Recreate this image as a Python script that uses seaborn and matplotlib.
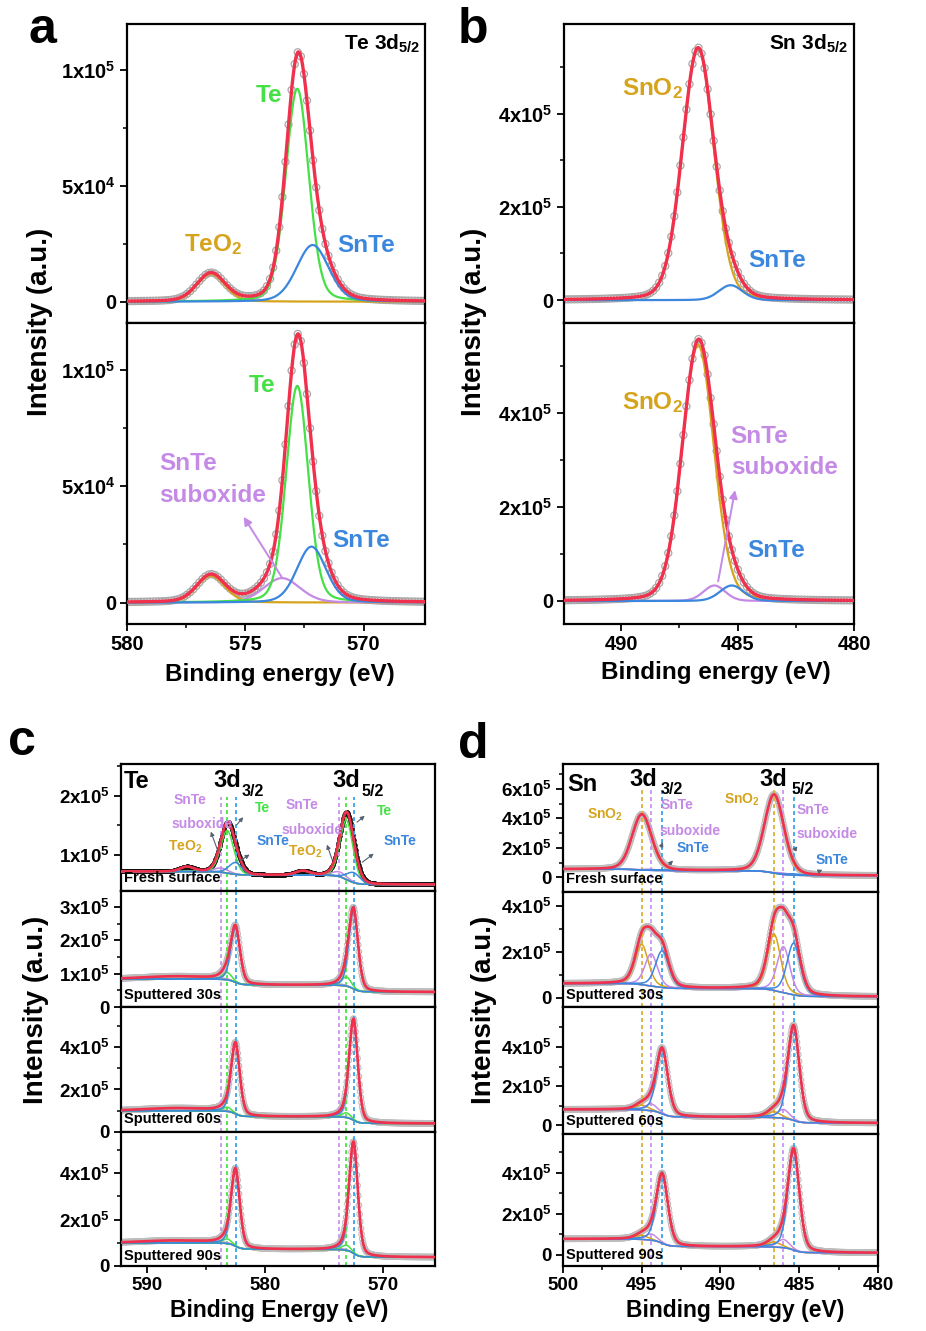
import numpy as np
import matplotlib
matplotlib.use("Agg")
import matplotlib.pyplot as plt
import seaborn as sns

sns.set_style("ticks")
plt.rcParams["font.family"] = ["Liberation Sans", "DejaVu Sans"]
plt.rcParams["font.weight"] = "bold"
plt.rcParams["mathtext.fontset"] = "custom"
plt.rcParams["mathtext.rm"] = "Liberation Sans:bold"
plt.rcParams["mathtext.bf"] = "Liberation Sans:bold"
plt.rcParams["mathtext.it"] = "Liberation Sans:bold"
plt.rcParams["mathtext.default"] = "bf"
plt.rcParams["text.color"] = "black"
plt.rcParams["axes.labelcolor"] = "black"
plt.rcParams["xtick.color"] = "black"
plt.rcParams["ytick.color"] = "black"
plt.rcParams["axes.edgecolor"] = "black"

# ---------------- data ----------------
# panel a: Te 3d5/2 (top: as grown, bottom: with suboxide)
A1_COMP = ["TeO2", "Te", "SnTe"]
A1_CEN = [576.45, 572.8, 572.15]
A1_HGT = [1.2e4, 9.2e4, 2.45e4]
A1_FWHM = [1.4, 1.15, 1.6]
A2_COMP = ["TeO2", "suboxide", "Te", "SnTe"]
A2_CEN = [576.45, 573.45, 572.8, 572.2]
A2_HGT = [1.15e4, 1.05e4, 9.3e4, 2.4e4]
A2_FWHM = [1.4, 1.8, 1.1, 1.45]

# panel b: Sn 3d5/2
B1_COMP = ["SnO2", "SnTe"]
B1_CEN = [486.7, 485.3]
B1_HGT = [5.4e5, 3.2e4]
B1_FWHM = [1.6, 1.2]
B2_COMP = ["SnO2", "suboxide", "SnTe"]
B2_CEN = [486.7, 486.0, 485.25]
B2_HGT = [5.45e5, 3.3e4, 3.3e4]
B2_FWHM = [1.6, 1.1, 1.2]

# panel c: Te 3d depth profile
C_LABELS = ["Fresh surface", "Sputtered 30s", "Sputtered 60s", "Sputtered 90s"]
C_COMP = ["suboxide", "Te", "SnTe"]
C_CEN_32 = [583.7, 583.2, 582.5]
C_CEN_52 = [573.7, 573.1, 572.5]
C_HGT_32 = [[0.07e5, 0.72e5, 0.2e5], [0.04e5, 0.22e5, 1.65e5],
            [0.05e5, 0.2e5, 3.3e5], [0.05e5, 0.2e5, 3.3e5]]
C_HGT_52 = [[0.08e5, 1.0e5, 0.17e5], [0.04e5, 0.28e5, 2.35e5],
            [0.05e5, 0.22e5, 4.7e5], [0.05e5, 0.22e5, 4.75e5]]
C_FWHM = [[1.5, 1.3, 1.3], [1.2, 0.9, 0.9], [1.2, 0.9, 0.85], [1.2, 0.9, 0.85]]
C_TEO2_CEN = [586.6, 576.8]
C_TEO2_HGT = [0.08e5, 0.07e5]
C_HUMP_HGT = [0.0, 0.08e5, 0.12e5, 0.1e5]
C_BG_HI = [0.72e5, 0.84e5, 1.0e5, 1.0e5]
C_BG_MID = [0.66e5, 0.66e5, 0.72e5, 0.72e5]
C_BG_LO = [0.5e5, 0.45e5, 0.4e5, 0.38e5]
C_YLIM = [(0.39e5, 2.54e5), (0, 3.48e5), (0, 5.88e5), (0, 5.78e5)]
C_YTICKS = [[1e5, 2e5], [0, 1e5, 2e5, 3e5], [0, 2e5, 4e5], [0, 2e5, 4e5]]
C_YTICKLABELS = [["1x10$^5$", "2x10$^5$"], ["0", "1x10$^5$", "2x10$^5$", "3x10$^5$"],
                 ["0", "2x10$^5$", "4x10$^5$"], ["0", "2x10$^5$", "4x10$^5$"]]

# panel d: Sn 3d depth profile
D_COMP = ["SnO2", "suboxide", "SnTe"]
D_CEN_32 = [495.0, 494.4, 493.7]
D_CEN_52 = [486.6, 486.0, 485.35]
D_HGT_32 = [[3.75e5, 0.08e5, 0.06e5], [1.75e5, 1.4e5, 1.6e5],
            [0.25e5, 0.35e5, 3.3e5], [0.2e5, 0.3e5, 3.35e5]]
D_HGT_52 = [[5.3e5, 0.1e5, 0.1e5], [2.45e5, 2.0e5, 2.25e5],
            [0.3e5, 0.45e5, 4.75e5], [0.25e5, 0.4e5, 4.85e5]]
D_FWHM = [[1.45, 1.0, 1.0], [1.0, 0.95, 1.0], [1.0, 0.9, 0.85], [1.0, 0.9, 0.85]]
D_BG_HI = [0.55e5, 0.62e5, 0.8e5, 0.78e5]
D_BG_MID = [0.45e5, 0.4e5, 0.4e5, 0.4e5]
D_BG_LO = [0.12e5, 0.05e5, 0.1e5, 0.1e5]
D_YLIM = [(-1.0e5, 7.7e5), (-0.4e5, 4.6e5), (-0.46e5, 6.05e5), (-0.54e5, 5.9e5)]
D_YTICKS = [[0, 2e5, 4e5, 6e5], [0, 2e5, 4e5], [0, 2e5, 4e5], [0, 2e5, 4e5]]
D_YTICKLABELS = [["0", "2x10$^5$", "4x10$^5$", "6x10$^5$"], ["0", "2x10$^5$", "4x10$^5$"],
                 ["0", "2x10$^5$", "4x10$^5$"], ["0", "2x10$^5$", "4x10$^5$"]]

COL = {"TeO2": "#d6a41c", "SnO2": "#d6a41c", "Te": "#45e045", "SnTe": "#3b87dd",
       "suboxide": "#c48ae6", "env": "#f0304c"}
DASH = {"TeO2": "#e0b43a", "SnO2": "#e0b43a", "Te": "#4ee84e", "SnTe": "#45a8ee",
        "suboxide": "#cf9cf0"}

W, H = 926, 1331
fig = plt.figure(figsize=(W / 100, H / 100), dpi=100)


def add_ax(x0, x1, y0, y1):
    return fig.add_axes([x0 / W, 1 - y1 / H, (x1 - x0) / W, (y1 - y0) / H])


def pv(x, c, h, w, eta):
    g = np.exp(-4 * np.log(2) * ((x - c) / w) ** 2)
    l = 1.0 / (1 + 4 * ((x - c) / w) ** 2)
    return h * ((1 - eta) * g + eta * l)


def line(ax, x, y, color, lw, z=2):
    sns.lineplot(x=x, y=y, ax=ax, color=color, linewidth=lw, estimator=None,
                 errorbar=None, zorder=z)


def dots(ax, x, y, color, s, lw, fill=False, z=1):
    sns.scatterplot(x=x, y=y, ax=ax, s=s, marker="o",
                    fc=(color if fill else "none"), ec=color, linewidth=lw,
                    zorder=z, legend=False)


def style(ax, xlim, xmaj, xmin, ylim, ymaj, ylabels, ymin, fs, showx):
    ax.set_xlim(*xlim)
    ax.set_ylim(*ylim)
    ax.set_xticks(xmaj)
    ax.set_xticks(xmin, minor=True)
    ax.set_yticks(ymaj)
    ax.set_yticklabels(ylabels)
    ax.set_yticks(ymin, minor=True)
    if showx:
        ax.set_xticklabels([f"{v:g}" for v in xmaj])
    else:
        ax.set_xticklabels([])
    ax.tick_params(axis="both", which="major", direction="out", length=5, width=1.3,
                   labelsize=fs, colors="black", pad=3)
    ax.tick_params(axis="both", which="minor", direction="out", length=3, width=1.1,
                   colors="black")
    for lab in ax.get_xticklabels() + ax.get_yticklabels():
        lab.set_fontweight("bold")
    for sp in ax.spines.values():
        sp.set_linewidth(1.6)
        sp.set_color("black")
    ax.set_xlabel("")
    ax.set_ylabel("")


# ---------------- panels a & b ----------------
def simple_panel(ax, xlim, comps, cens, hgts, fwhms, eta):
    x = np.linspace(min(xlim), max(xlim), 700)
    xs = np.arange(min(xlim) + 0.05, max(xlim), 0.13)
    env = np.zeros_like(x)
    envs = np.zeros_like(xs)
    for c, h, w in zip(cens, hgts, fwhms):
        env += pv(x, c, h, w, eta)
        envs += pv(xs, c, h, w, eta)
    dots(ax, xs, envs, "#a8a8a8", 26, 0.9, z=1)
    for name, c, h, w in zip(comps, cens, hgts, fwhms):
        line(ax, x, pv(x, c, h, w, eta), COL[name], 1.6, z=3)
    line(ax, x, env, COL["env"], 2.4, z=4)


A_XLIM = (580, 567.4)
B_XLIM = (492.46, 480)
axa1 = add_ax(127, 425, 24, 323)
axa2 = add_ax(127, 425, 323, 624)
axb1 = add_ax(564, 854, 24, 323)
axb2 = add_ax(564, 854, 323, 624)

simple_panel(axa1, A_XLIM, A1_COMP, A1_CEN, A1_HGT, A1_FWHM, 0.2)
simple_panel(axa2, A_XLIM, A2_COMP, A2_CEN, A2_HGT, A2_FWHM, 0.2)
simple_panel(axb1, B_XLIM, B1_COMP, B1_CEN, B1_HGT, B1_FWHM, 0.15)
simple_panel(axb2, B_XLIM, B2_COMP, B2_CEN, B2_HGT, B2_FWHM, 0.15)

for ax, showx in [(axa1, False), (axa2, True)]:
    style(ax, A_XLIM, [580, 575, 570], [577.5, 572.5], (-0.92e4, 1.2e5),
          [0, 5e4, 1e5], ["0", "5x10$^4$", "1x10$^5$"], [2.5e4, 7.5e4], 14.5, showx)
for ax, showx in [(axb1, False), (axb2, True)]:
    style(ax, B_XLIM, [490, 485, 480], [487.5, 482.5], (-0.49e5, 5.92e5),
          [0, 2e5, 4e5], ["0", "2x10$^5$", "4x10$^5$"], [1e5, 3e5, 5e5], 14.5, showx)

LFS = 17.5
axa1.text(0.983, 0.933, "Te 3d$_{5/2}$", transform=axa1.transAxes, ha="right",
          va="center", fontsize=15, fontweight="bold")
axa1.text(574.0, 8.9e4, "Te", color=COL["Te"], fontsize=LFS, ha="center", va="center")
axa1.text(576.35, 2.45e4, "TeO$_2$", color=COL["TeO2"], fontsize=LFS, ha="center", va="center")
axa1.text(569.9, 2.45e4, "SnTe", color=COL["SnTe"], fontsize=LFS, ha="center", va="center")

axa2.text(574.3, 9.3e4, "Te", color=COL["Te"], fontsize=LFS, ha="center", va="center")
axa2.text(578.65, 5.96e4, "SnTe", color=COL["suboxide"], fontsize=LFS, ha="left", va="center")
axa2.text(578.65, 4.6e4, "suboxide", color=COL["suboxide"], fontsize=LFS, ha="left", va="center")
axa2.text(570.1, 2.65e4, "SnTe", color=COL["SnTe"], fontsize=LFS, ha="center", va="center")
axa2.annotate("", xy=(575.13, 3.78e4), xytext=(573.4, 1.0e4),
              arrowprops=dict(arrowstyle="-|>", color=COL["suboxide"], lw=1.4,
                              mutation_scale=12), zorder=5)

axb1.text(0.98, 0.933, "Sn 3d$_{5/2}$", transform=axb1.transAxes, ha="right",
          va="center", fontsize=15, fontweight="bold")
axb1.text(488.67, 4.54e5, "SnO$_2$", color=COL["SnO2"], fontsize=LFS, ha="center", va="center")
axb1.text(483.3, 0.86e5, "SnTe", color=COL["SnTe"], fontsize=LFS, ha="center", va="center")
axb2.text(488.67, 4.22e5, "SnO$_2$", color=COL["SnO2"], fontsize=LFS, ha="center", va="center")
axb2.text(485.3, 3.5e5, "SnTe", color=COL["suboxide"], fontsize=LFS, ha="left", va="center")
axb2.text(485.3, 2.85e5, "suboxide", color=COL["suboxide"], fontsize=LFS, ha="left", va="center")
axb2.text(483.35, 1.07e5, "SnTe", color=COL["SnTe"], fontsize=LFS, ha="center", va="center")
axb2.annotate("", xy=(485.09, 2.42e5), xytext=(485.86, 0.36e5),
              arrowprops=dict(arrowstyle="-|>", color=COL["suboxide"], lw=1.4,
                              mutation_scale=12), zorder=5)


# ---------------- panels c & d ----------------
def doublet_panel(ax, xlim, comps, cen32, cen52, h32, h52, fw, bg_hi, bg_mid, bg_lo,
                  eta, fresh, bg_col, extra=None, hump=0.0, hump_col=None):
    x = np.linspace(min(xlim), max(xlim), 1400)
    p32 = [pv(x, c, h, w, eta) for c, h, w in zip(cen32, h32, fw)]
    p52 = [pv(x, c, h, w, eta) for c, h, w in zip(cen52, h52, fw)]
    s32 = np.sum(p32, axis=0)
    s52 = np.sum(p52, axis=0)
    f32 = np.cumsum(s32) / np.sum(s32)
    f52 = np.cumsum(s52) / np.sum(s52)
    bg = bg_lo + (bg_mid - bg_lo) * f52 + (bg_hi - bg_mid) * f32
    env = bg + s32 + s52
    comp_lines = []
    if extra is not None:
        for name, cs, hs, w in extra:
            for c, h in zip(cs, hs):
                pk = pv(x, c, h, w, eta)
                env = env + pk
                comp_lines.append((name, bg + pk))
    if hump > 0:
        hp = pv(x, 587.5, hump, 6.5, 0.0)
        env = env + hp
        comp_lines.append((hump_col, bg + hp))
    for i, name in enumerate(comps):
        comp_lines.append((name, bg + p32[i]))
        comp_lines.append((name, bg + p52[i]))
    if fresh:
        dots(ax, x[::2], env[::2], "#111111", 7, 0.6, fill=True, z=1)
    else:
        dots(ax, x[::3], env[::3], "#bdbdbd", 16, 0.8, z=1)
    line(ax, x, bg, bg_col, 1.0, z=2)
    for name, y in comp_lines:
        line(ax, x, y, COL[name], 1.1, z=3)
    line(ax, x, env, COL["env"], 1.9, z=4)


C_XLIM = (592.2, 565.6)
D_XLIM = (500, 480)
C_ROWS = [(764, 891), (891, 1007), (1007, 1132), (1132, 1266)]
D_ROWS = [(764, 892), (892, 1007), (1007, 1134), (1134, 1266)]
axc = [add_ax(121, 435, r0, r1) for r0, r1 in C_ROWS]
axd = [add_ax(563, 878, r0, r1) for r0, r1 in D_ROWS]

for i, ax in enumerate(axc):
    extra = None
    if i == 0:
        extra = [("TeO2", C_TEO2_CEN, C_TEO2_HGT, 1.4)]
    doublet_panel(ax, C_XLIM, C_COMP, C_CEN_32, C_CEN_52, C_HGT_32[i], C_HGT_52[i],
                  C_FWHM[i], C_BG_HI[i], C_BG_MID[i], C_BG_LO[i],
                  0.15 if i == 0 else 0.3, i == 0,
                  "#9a7fc8" if i == 0 else COL["TeO2"], extra=extra,
                  hump=C_HUMP_HGT[i], hump_col="TeO2")
    ymaj = C_YTICKS[i]
    step = ymaj[1] - ymaj[0]
    ymin = [v + step / 2 for v in ymaj if v + step / 2 < C_YLIM[i][1]]
    style(ax, C_XLIM, [590, 580, 570], [585, 575], C_YLIM[i], ymaj, C_YTICKLABELS[i],
          ymin, 13.5, i == 3)
    top = 0.74 if i == 0 else 1.0
    for c, name in zip(C_CEN_32 + C_CEN_52, C_COMP + C_COMP):
        ax.axvline(c, ymin=0, ymax=top, color=DASH[name], lw=1.4,
                   linestyle=(0, (2.0, 1.6)), zorder=2.5)
    ax.text(0.008, 0.10 if i < 3 else 0.075, C_LABELS[i], transform=ax.transAxes,
            ha="left", va="center", fontsize=10.5, fontweight="bold", zorder=6)

for i, ax in enumerate(axd):
    doublet_panel(ax, D_XLIM, D_COMP, D_CEN_32, D_CEN_52, D_HGT_32[i], D_HGT_52[i],
                  D_FWHM[i], D_BG_HI[i], D_BG_MID[i], D_BG_LO[i],
                  0.2 if i == 0 else 0.3, False, COL["suboxide"])
    ymaj = D_YTICKS[i]
    step = ymaj[1] - ymaj[0]
    ymin = [v + step / 2 for v in ymaj if v + step / 2 < D_YLIM[i][1]]
    style(ax, D_XLIM, [500, 495, 490, 485, 480], [497.5, 492.5, 487.5, 482.5],
          D_YLIM[i], ymaj, D_YTICKLABELS[i], ymin, 13.5, i == 3)
    top = 0.8 if i == 0 else 1.0
    for c, name in zip(D_CEN_32 + D_CEN_52, D_COMP + D_COMP):
        ax.axvline(c, ymin=0, ymax=top, color=DASH[name], lw=1.4,
                   linestyle=(0, (2.0, 1.6)), zorder=2.5)
    ax.text(0.01, 0.10 if i < 3 else 0.08, C_LABELS[i], transform=ax.transAxes,
            ha="left", va="center", fontsize=10.5, fontweight="bold", zorder=6)

# annotations inside c top
c0 = axc[0]
SFS = 10
T = c0.transAxes
c0.text(0.01, 0.86, "Te", transform=T, fontsize=17, ha="left", va="center")
c0.text(0.34, 0.87, "3d", transform=T, fontsize=17, ha="center", va="center")
c0.text(0.42, 0.785, "3/2", transform=T, fontsize=11.5, ha="center", va="center")
c0.text(0.717, 0.87, "3d", transform=T, fontsize=17, ha="center", va="center")
c0.text(0.80, 0.785, "5/2", transform=T, fontsize=11.5, ha="center", va="center")
for (tx, ty, s, col) in [(0.22, 0.72, "SnTe", "suboxide"), (0.258, 0.53, "suboxide", "suboxide"),
                         (0.45, 0.655, "Te", "Te"), (0.204, 0.35, "TeO$_2$", "TeO2"),
                         (0.485, 0.39, "SnTe", "SnTe"), (0.577, 0.68, "SnTe", "suboxide"),
                         (0.61, 0.48, "suboxide", "suboxide"), (0.586, 0.31, "TeO$_2$", "TeO2"),
                         (0.84, 0.63, "Te", "Te"), (0.89, 0.39, "SnTe", "SnTe")]:
    c0.text(tx, ty, s, transform=T, fontsize=SFS, color=COL[col], ha="center",
            va="center", zorder=6)
for head, tail in [((0.283, 0.488), (0.312, 0.291)), ((0.395, 0.598), (0.363, 0.504)),
                   ((0.417, 0.299), (0.373, 0.228)), ((0.653, 0.386), (0.675, 0.228)),
                   ((0.783, 0.606), (0.745, 0.528)), ((0.812, 0.307), (0.761, 0.213))]:
    c0.annotate("", xy=head, xytext=tail, xycoords="axes fraction",
                textcoords="axes fraction",
                arrowprops=dict(arrowstyle="-|>", color="#556070", lw=0.8,
                                mutation_scale=6), zorder=6)

d0 = axd[0]
T = d0.transAxes
d0.text(0.013, 0.84, "Sn", transform=T, fontsize=17, ha="left", va="center")
d0.text(0.254, 0.88, "3d", transform=T, fontsize=17, ha="center", va="center")
d0.text(0.346, 0.80, "3/2", transform=T, fontsize=11.5, ha="center", va="center")
d0.text(0.667, 0.88, "3d", transform=T, fontsize=17, ha="center", va="center")
d0.text(0.762, 0.80, "5/2", transform=T, fontsize=11.5, ha="center", va="center")
for (tx, ty, s, col) in [(0.133, 0.60, "SnO$_2$", "SnO2"), (0.568, 0.72, "SnO$_2$", "SnO2"),
                         (0.362, 0.68, "SnTe", "suboxide"), (0.403, 0.48, "suboxide", "suboxide"),
                         (0.794, 0.64, "SnTe", "suboxide"), (0.838, 0.45, "suboxide", "suboxide"),
                         (0.413, 0.34, "SnTe", "SnTe"), (0.854, 0.25, "SnTe", "SnTe")]:
    d0.text(tx, ty, s, transform=T, fontsize=SFS, color=COL[col], ha="center",
            va="center", zorder=6)
for head, tail in [((0.32, 0.41), (0.308, 0.33)), ((0.356, 0.26), (0.33, 0.2)),
                   ((0.749, 0.375), (0.73, 0.31)), ((0.832, 0.18), (0.806, 0.156))]:
    d0.annotate("", xy=head, xytext=tail, xycoords="axes fraction",
                textcoords="axes fraction",
                arrowprops=dict(arrowstyle="-|>", color="#556070", lw=0.8,
                                mutation_scale=6), zorder=6)

# ---------------- figure-level labels ----------------
def ftext(px, py, s, **kw):
    fig.text(px / W, 1 - py / H, s, color="black", **kw)


ftext(28, 30, "a", fontsize=36, fontweight="bold", ha="left", va="center")
ftext(458, 30, "b", fontsize=36, fontweight="bold", ha="left", va="center")
ftext(8, 742, "c", fontsize=36, fontweight="bold", ha="left", va="center")
ftext(458, 745, "d", fontsize=36, fontweight="bold", ha="left", va="center")

ftext(40, 322, "Intensity (a.u.)", fontsize=20, fontweight="bold", rotation=90,
      ha="center", va="center")
ftext(474, 322, "Intensity (a.u.)", fontsize=20, fontweight="bold", rotation=90,
      ha="center", va="center")
ftext(36, 1010, "Intensity (a.u.)", fontsize=20, fontweight="bold", rotation=90,
      ha="center", va="center")
ftext(484, 1010, "Intensity (a.u.)", fontsize=20, fontweight="bold", rotation=90,
      ha="center", va="center")

ftext(280, 675, "Binding energy (eV)", fontsize=17.5, fontweight="bold", ha="center", va="center")
ftext(716, 673, "Binding energy (eV)", fontsize=17.5, fontweight="bold", ha="center", va="center")
ftext(279, 1310, "Binding Energy (eV)", fontsize=16.5, fontweight="bold", ha="center", va="center")
ftext(735, 1310, "Binding Energy (eV)", fontsize=16.5, fontweight="bold", ha="center", va="center")

fig.savefig("out.png", dpi=100, facecolor="white")
